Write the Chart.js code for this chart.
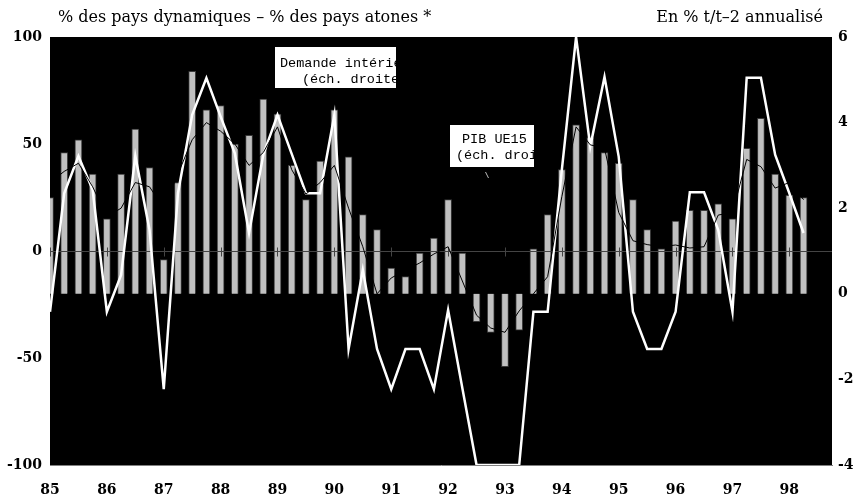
<!DOCTYPE html>
<html>
<head>
<meta charset="utf-8">
<script src="https://cdn.jsdelivr.net/npm/chart.js@4"></script>
<style>
  body { margin: 0; background: #fff; }
</style>
</head>
<body>
<canvas id="myChart" width="858" height="499"></canvas>
<script>
var quarters = [
  "85T1", "85T2", "85T3", "85T4", "86T1", "86T2", "86T3", "86T4",
  "87T1", "87T2", "87T3", "87T4", "88T1", "88T2", "88T3", "88T4",
  "89T1", "89T2", "89T3", "89T4", "90T1", "90T2", "90T3", "90T4",
  "91T1", "91T2", "91T3", "91T4", "92T1", "92T2", "92T3", "92T4",
  "93T1", "93T2", "93T3", "93T4", "94T1", "94T2", "94T3", "94T4",
  "95T1", "95T2", "95T3", "95T4", "96T1", "96T2", "96T3", "96T4",
  "97T1", "97T2", "97T3", "97T4", "98T1", "98T2",
];
// solde % pays dynamiques - % pays atones (echelle gauche)
var solde = [
  25, 46, 52, 36, 15, 36, 57, 39,
  -4, 32, 84, 66, 68, 50, 54, 71,
  64, 40, 24, 42, 66, 44, 17, 10,
  -8, -12, -1, 6, 24, -1, -33, -38,
  -54, -37, 1, 17, 38, 59, 53, 46,
  41, 24, 10, 1, 14, 19, 19, 22,
  15, 48, 62, 36, 26, 25,
];
// demande interieure, % t/t-2 annualise (echelle droite)
var demande = [
  -0.42, 2.35, 3.22, 2.43, -0.42, 0.44, 3.22, 1.49,
  -2.23, 2.35, 4.18, 5.04, 4.14, 3.28, 1.42, 3.25,
  4.18, 3.27, 2.35, 2.35, 4.18, -1.29, 0.56, -1.29,
  -2.23, -1.29, -1.29, -2.23, -0.38, -2.2, -4, -4,
  -4, -4, -0.42, -0.42, 2.9, 6.0, 3.44, 5.07,
  3.2, -0.42, -1.29, -1.29, -0.42, 2.37, 2.37, 1.49,
  -0.42, 5.05, 5.05, 3.25, 2.35, 1.42,
];
// PIB UE15 (echelle droite)
var pib = [
  2.6, 2.86, 3.05, 2.5, 1.8, 2.0, 2.6, 2.5,
  2.0, 2.8, 3.6, 4.0, 3.8, 3.5, 3.0, 3.3,
  3.9, 2.9, 2.33, 2.6, 3.0, 2.0, 1.1, 0.0,
  0.37, 0.55, 0.72, 0.93, 1.1, 0.3, -0.5, -0.8,
  -0.9, -0.4, 0.0, 0.4, 2.27, 3.9, 3.48, 3.4,
  1.9, 1.24, 1.15, 1.1, 1.14, 1.07, 1.1, 1.84,
  1.9, 3.14, 2.97, 2.47, 2.6, 2.2,
];
var leftTicks = [-100, -50, 0, 50, 100];
var rightTicks = [-4, -2, 0, 2, 4, 6];
var yearLabels = ["85", "86", "87", "88", "89", "90", "91", "92", "93", "94", "95", "96", "97", "98"];

function pos(q) {
  return parseInt(q.slice(0, 2)) + (parseInt(q.slice(3)) - 1) / 4;
}
function pts(values) {
  return quarters.map(function (q, i) {
    return { x: pos(q), y: values[i] };
  });
}

var tickFont = { family: "DejaVu Serif", size: 14, weight: "bold" };

var decor = {
  id: "decor",
  beforeDraw: function (chart) {
    var a = chart.chartArea;
    var ctx = chart.ctx;
    ctx.save();
    ctx.fillStyle = "#000";
    ctx.fillRect(a.left, a.top, a.right - a.left, a.bottom - a.top);
    ctx.restore();
  },
  afterDatasetDraw: function (chart, args) {
    if (args.index !== 0) return;
    var a = chart.chartArea;
    var ctx = chart.ctx;
    var y0 = Math.round(chart.scales.y.getPixelForValue(0)) + 0.5;
    ctx.save();
    ctx.strokeStyle = "#444";
    ctx.lineWidth = 1;
    ctx.beginPath();
    ctx.moveTo(a.left, y0);
    ctx.lineTo(a.right, y0);
    yearLabels.forEach(function (yr) {
      var x = Math.round(chart.scales.x.getPixelForValue(parseInt(yr))) + 0.5;
      ctx.moveTo(x, y0 - 4);
      ctx.lineTo(x, y0 + 5);
    });
    ctx.stroke();
    ctx.restore();
  },
  afterDraw: function (chart) {
    var ctx = chart.ctx;
    ctx.save();
    ctx.fillStyle = "#000";
    ctx.textBaseline = "middle";
    ctx.font = '16px "DejaVu Serif"';
    ctx.textAlign = "left";
    ctx.fillText("% des pays dynamiques \u2013 % des pays atones *", 58, 18);
    ctx.textAlign = "right";
    ctx.fillText("En % t/t\u20132 annualis\u00e9", 823, 18);

    function box(x, y, w, h, lines) {
      ctx.save();
      ctx.fillStyle = "#fff";
      ctx.fillRect(x, y, w, h);
      ctx.beginPath();
      ctx.rect(x, y, w, h);
      ctx.clip();
      ctx.fillStyle = "#000";
      ctx.font = '13.5px "Liberation Mono"';
      ctx.textAlign = "left";
      ctx.textBaseline = "middle";
      lines.forEach(function (l) {
        ctx.fillText(l[0], l[1], l[2]);
      });
      ctx.restore();
    }
    box(275, 47, 121, 41, [
      ["Demande int\u00e9rieure", 280, 63],
      ["(\u00e9ch. droite)", 302, 79],
    ]);
    box(450, 125, 84, 42, [
      ["PIB UE15", 462, 139],
      ["(\u00e9ch. droite)", 456, 155],
    ]);
    ctx.strokeStyle = "#bbb";
    ctx.lineWidth = 1;
    ctx.beginPath();
    ctx.moveTo(485.5, 172);
    ctx.lineTo(488.5, 178);
    ctx.stroke();
    ctx.restore();
  },
};

new Chart("myChart", {
  type: "bar",
  data: {
    datasets: [
      {
        type: "bar",
        label: "% des pays dynamiques - % des pays atones",
        data: pts(solde),
        yAxisID: "y",
        base: -20,
        backgroundColor: "#c0c0c0",
        borderColor: "#3a3a3a",
        borderWidth: 1,
        barThickness: 7,
        order: 3,
      },
      {
        type: "line",
        label: "Demande int\u00e9rieure (\u00e9ch. droite)",
        data: pts(demande),
        yAxisID: "y1",
        borderColor: "#fff",
        borderWidth: 2.5,
        pointRadius: 0,
        tension: 0,
        order: 2,
      },
      {
        type: "line",
        label: "PIB UE15 (\u00e9ch. droite)",
        data: pts(pib),
        yAxisID: "y1",
        borderColor: "#000",
        borderWidth: 1,
        pointRadius: 0,
        tension: 0,
        order: 1,
      },
    ],
  },
  options: {
    responsive: false,
    animation: false,
    layout: { padding: { top: 37, left: 0, right: 0, bottom: 0 } },
    plugins: {
      legend: { display: false },
      tooltip: { enabled: false },
    },
    scales: {
      x: {
        type: "linear",
        offset: false,
        min: 85,
        max: 98.75,
        grid: { display: false, drawTicks: false, offset: false },
        border: { display: true, color: "#808080" },
        ticks: {
          stepSize: 1,
          includeBounds: false,
          autoSkip: false,
          maxRotation: 0,
          padding: 17,
          color: "#000",
          font: tickFont,
          callback: function (v) {
            var s = String(v);
            return yearLabels.indexOf(s) >= 0 ? s : "";
          },
        },
        afterFit: function (s) { s.height = 34; },
      },
      y: {
        position: "left",
        min: leftTicks[0],
        max: leftTicks[leftTicks.length - 1],
        grid: { display: false, drawTicks: false },
        border: { display: false },
        ticks: { stepSize: 50, padding: 8, color: "#000", font: tickFont },
        afterFit: function (s) { s.width = 50; },
      },
      y1: {
        position: "right",
        min: rightTicks[0],
        max: rightTicks[rightTicks.length - 1],
        grid: { display: false, drawTicks: false },
        border: { display: false },
        ticks: { stepSize: 2, padding: 6, color: "#000", font: tickFont },
        afterFit: function (s) { s.width = 26; },
      },
    },
  },
  plugins: [decor],
});
</script>
</body>
</html>
